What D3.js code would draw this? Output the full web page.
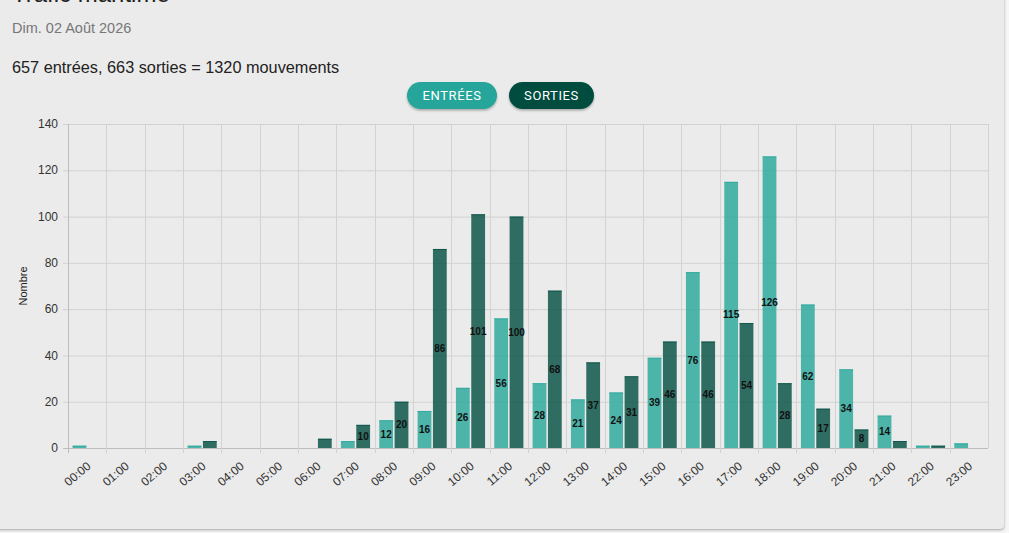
<!DOCTYPE html>
<html><head><meta charset="utf-8">
<script src="https://cdn.jsdelivr.net/npm/d3@7"></script>
<style>
html,body{margin:0;padding:0;background:#f6f6f6;overflow:hidden;}
#card{position:absolute;left:-6px;top:-10px;width:1010px;height:539px;background:#ebebeb;border-radius:0 0 4px 0;box-shadow:0 1px 3px rgba(0,0,0,0.35);}
svg{position:absolute;left:0;top:0;}
</style></head>
<body><div id="card"></div><svg id="chart" width="1009" height="533"></svg>
<script>
const hours = ["00:00","01:00","02:00","03:00","04:00","05:00","06:00","07:00","08:00","09:00","10:00","11:00","12:00","13:00","14:00","15:00","16:00","17:00","18:00","19:00","20:00","21:00","22:00","23:00"];
const entrees = [1,0,0,1,0,0,0,3,12,16,26,56,28,21,24,39,76,115,126,62,34,14,1,2];
const sorties = [0,0,0,3,0,0,4,10,20,86,101,100,68,37,31,46,46,54,28,17,8,3,1,0];
const seriesNames = ["ENTRÉES","SORTIES"];
const yTicks = [0,20,40,60,80,100,120,140];
const title = "Trafic maritime";
const dateText = "Dim. 02 Août 2026";

const fillCol = ["rgba(38,166,154,0.8)","rgba(0,77,64,0.8)"];
const strokeCol = ["#26a69a","#004d40"];
const font = "'Liberation Sans', Arial, Helvetica, sans-serif";

const svg = d3.select("#chart");
const totE = d3.sum(entrees), totS = d3.sum(sorties);

svg.append("text").attr("x",12).attr("y",2).attr("font-family",font).attr("font-size",24).attr("fill","#222").text(title);
svg.append("text").attr("x",12).attr("y",33).attr("font-family",font).attr("font-size",14.5).attr("fill","#777").text(dateText);
svg.append("text").attr("x",12).attr("y",73).attr("font-family",font).attr("font-size",16.3).attr("fill","#222")
  .text(`${totE} entrées, ${totS} sorties = ${totE+totS} mouvements`);

// legend buttons
const btns = [{x:407,w:90},{x:509,w:85}];
const defs = svg.append("defs");
const f = defs.append("filter").attr("id","sh").attr("x","-20%").attr("y","-30%").attr("width","140%").attr("height","180%");
f.append("feDropShadow").attr("dx",0).attr("dy",1.5).attr("stdDeviation",1.2).attr("flood-color","#000").attr("flood-opacity",0.3);
seriesNames.forEach((n,i)=>{
  const g = svg.append("g");
  g.append("rect").attr("x",btns[i].x).attr("y",82).attr("width",btns[i].w).attr("height",27).attr("rx",13.5)
    .attr("fill",strokeCol[i]).attr("filter","url(#sh)");
  g.append("text").attr("x",btns[i].x+btns[i].w/2).attr("y",100).attr("text-anchor","middle")
    .attr("font-family","Roboto, 'Liberation Sans', sans-serif").attr("font-size",13).attr("letter-spacing","0.6px")
    .attr("fill","#fff").text(n);
});

const L=68, R=988, T=124, B=448;
const x = d3.scaleBand().domain(hours).range([L,R]).paddingInner(0).paddingOuter(0);
const x1 = d3.scaleBand().domain([0,1]).range([0,x.bandwidth()*0.8]).paddingInner(0.1).paddingOuter(0.05);
const y = d3.scaleLinear().domain([0,140]).range([B,T]);

// grid
const grid = svg.append("g");
grid.selectAll("line.h").data(yTicks).join("line")
  .attr("x1",L-5).attr("x2",R).attr("y1",d=>y(d)+0.5).attr("y2",d=>y(d)+0.5)
  .attr("stroke",d=>d===0?"#bdbdbd":"#d2d2d2").attr("stroke-width",1);
grid.selectAll("line.v").data(hours.concat(["end"])).join("line")
  .attr("x1",(d,i)=>Math.round(L+i*x.bandwidth())+0.5).attr("x2",(d,i)=>Math.round(L+i*x.bandwidth())+0.5)
  .attr("y1",T).attr("y2",(d,i)=>i===24?B:B+5)
  .attr("stroke",(d,i)=>i===0?"#bdbdbd":"#d2d2d2").attr("stroke-width",1);

// y tick labels
svg.append("g").selectAll("text").data(yTicks).join("text")
  .attr("x",L-10).attr("y",d=>y(d)).attr("dy","0.35em").attr("text-anchor","end")
  .attr("font-family",font).attr("font-size",12).attr("fill","#333").text(d=>d);

svg.append("text").attr("transform",`translate(27,${(T+B)/2}) rotate(-90)`).attr("text-anchor","middle")
  .attr("font-family",font).attr("font-size",11).attr("fill","#222").text("Nombre");

// x tick labels
svg.append("g").selectAll("text").data(hours).join("text")
  .attr("transform",d=>`translate(${x(d)+x.bandwidth()/2-1},${461}) rotate(-40)`)
  .attr("text-anchor","end").attr("dy","0.7em")
  .attr("font-family",font).attr("font-size",12).attr("fill","#333").text(d=>d);

// bars
const series=[entrees,sorties];
const bars = svg.append("g");
series.forEach((vals,si)=>{
  const g = bars.append("g");
  const off = x.bandwidth()*0.1;
  g.selectAll("rect").data(vals.map((v,i)=>({v,h:hours[i]})).filter(d=>d.v>0)).join("rect")
    .attr("x",d=>x(d.h)+off+x1(si)).attr("width",x1.bandwidth())
    .attr("y",d=>y(d.v)).attr("height",d=>B-y(d.v))
    .attr("fill",fillCol[si]);
  g.selectAll("line").data(vals.map((v,i)=>({v,h:hours[i]})).filter(d=>d.v>0)).join("line")
    .attr("x1",d=>x(d.h)+off+x1(si)).attr("x2",d=>x(d.h)+off+x1(si)+x1.bandwidth())
    .attr("y1",d=>y(d.v)+0.5).attr("y2",d=>y(d.v)+0.5).attr("stroke",strokeCol[si]).attr("stroke-opacity",0.7);
  g.selectAll("text").data(vals.map((v,i)=>({v,h:hours[i]})).filter(d=>d.v>=5)).join("text")
    .attr("x",d=>x(d.h)+off+x1(si)+x1.bandwidth()/2).attr("y",d=>(y(d.v)+B)/2).attr("dy","0.35em")
    .attr("text-anchor","middle").attr("font-family",font).attr("font-weight","bold").attr("font-size",10)
    .attr("fill","#111").text(d=>d.v);
});
</script></body></html>
